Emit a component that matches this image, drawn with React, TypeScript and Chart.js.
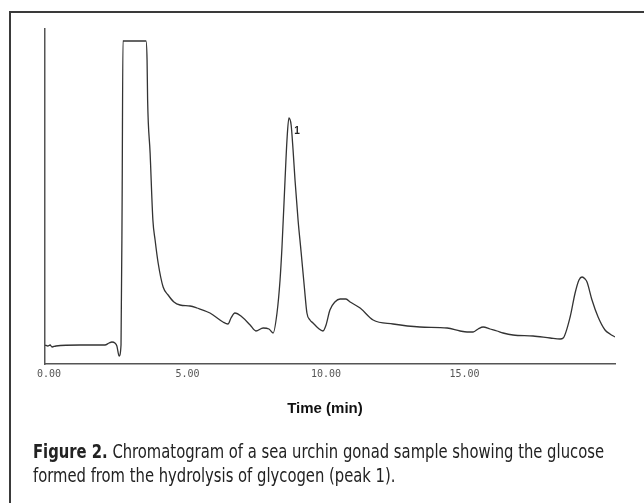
import React, { useEffect, useLayoutEffect, useRef } from "react";
import { Chart, registerables } from "chart.js";

Chart.register(...registerables);

// Retention time (min)
const timeMin = [
  -0.14, -0.04, 0.04, 0.11, 0.25, 1.12, 2.02, 2.17, 2.27, 2.38, 2.45, 2.53, 2.6, 2.64, 2.67,
  3.5, 3.54, 3.56, 3.65, 3.75, 3.83, 3.94, 4.12, 4.3, 4.51, 4.73, 5.09, 5.34, 5.81, 6.28,
  6.46, 6.57, 6.71, 6.97, 7.26, 7.47, 7.73, 7.94, 8.09, 8.23, 8.34, 8.41, 8.52, 8.59, 8.66,
  8.74, 8.81, 8.88, 8.99, 9.1, 9.22, 9.31, 9.42, 9.53, 9.71, 9.89, 10.0, 10.14, 10.32,
  10.51, 10.72, 10.87, 11.23, 11.7, 12.42, 13.39, 14.37, 14.84, 15.09, 15.31, 15.49, 15.67,
  15.92, 16.17, 16.39, 16.75, 17.47, 18.09, 18.45, 18.56, 18.81, 18.99, 19.13, 19.24, 19.35,
  19.42, 19.6, 19.82, 20.07, 20.25, 20.43,
];

// Detector response (arbitrary units)
const response = [
  19, 18, 19, 17, 18, 19, 19, 21, 22, 21, 18, 8, 19, 164, 323,
  323, 304, 264, 211, 144, 124, 101, 77, 69, 62, 59, 58, 56, 51, 42,
  40, 46, 51, 47, 39, 33, 36, 35, 31, 51, 84, 117, 184, 224, 246,
  239, 214, 184, 144, 112, 76, 51, 44, 41, 36, 33, 39, 54, 62,
  65, 65, 62, 56, 44, 40, 37, 36, 33, 32, 32, 35, 37,
  35, 33, 31, 29, 28, 26, 25, 26, 47, 71, 84, 87, 85,
  82, 64, 47, 34, 30, 27,
];

const tickValues = [0, 5, 10, 15];
const tickLabels = ["0.00", "5.00", "10.00", "15.00"];

const peakTimes = [8.66];
const peakValues = [246];
const peakNames = ["1"];

const xTitle = "Time (min)";
const captionBold = "Figure 2.";
const captionLine1 = " Chromatogram of a sea urchin gonad sample showing the glucose";
const captionLine2 = "formed from the hydrolysis of glycogen (peak 1).";

const peakLabelPlugin = {
  id: "peakLabel",
  afterDatasetsDraw(chart: any) {
    const { ctx, scales } = chart;
    const x = scales.x;
    const y = scales.y;
    ctx.save();
    ctx.font = 'bold 10px "Liberation Sans", Arial, sans-serif';
    ctx.fillStyle = "#222";
    ctx.textAlign = "center";
    ctx.textBaseline = "middle";
    peakTimes.forEach((t, i) => {
      const px = x.getPixelForValue(t);
      const py = y.getPixelForValue(peakValues[i]);
      ctx.fillText(peakNames[i], px + 8, py + 13);
    });
    ctx.restore();
  },
};

export default function App() {
  const canvasRef = useRef<HTMLCanvasElement | null>(null);
  const line1Ref = useRef<HTMLDivElement | null>(null);
  const line2Ref = useRef<HTMLDivElement | null>(null);

  useLayoutEffect(() => {
    const l1 = line1Ref.current;
    const l2 = line2Ref.current;
    if (!l1 || !l2) return;
    const w = l1.getBoundingClientRect().width;
    const s = w > 0 ? 571 / w : 1;
    l1.style.transform = `scaleX(${s})`;
    l2.style.transform = `scaleX(${s})`;
  }, []);

  useEffect(() => {
    if (!canvasRef.current) return;
    const data = timeMin.map((t, i) => ({ x: t, y: response[i] }));
    const chart = new Chart(canvasRef.current, {
      type: "line",
      data: {
        datasets: [
          {
            data,
            borderColor: "#333",
            borderWidth: 1.3,
            pointRadius: 0,
            fill: false,
            cubicInterpolationMode: "monotone",
          },
        ],
      },
      options: {
        animation: false,
        responsive: false,
        events: [],
        layout: { padding: { left: 37, right: 21, top: 21, bottom: 44 } },
        plugins: { legend: { display: false }, title: { display: false }, tooltip: { enabled: false } },
        scales: {
          x: {
            type: "linear",
            min: -0.144,
            max: 20.43,
            afterBuildTicks: (scale: any) => {
              scale.ticks = tickValues.map((v) => ({ value: v }));
            },
            afterFit: (scale: any) => {
              scale.height = 20;
            },
            grid: { display: false, drawTicks: false },
            border: { display: true, color: "#555", width: 1.5 },
            ticks: {
              autoSkip: false,
              maxRotation: 0,
              padding: 4,
              color: "#555",
              font: { family: '"DejaVu Sans Mono", monospace', size: 10 },
              callback: (v: any) => {
                const i = tickValues.indexOf(Number(v));
                return i >= 0 ? tickLabels[i] : "";
              },
            },
          },
          y: {
            type: "linear",
            min: 0,
            max: 335,
            afterFit: (scale: any) => {
              scale.width = 0;
            },
            grid: { display: false, drawTicks: false },
            border: { display: true, color: "#555", width: 1.5 },
            ticks: { display: false },
          },
        },
      },
      plugins: [peakLabelPlugin],
    } as any);
    return () => chart.destroy();
  }, []);

  const captionFont = '"Liberation Sans Narrow", "DejaVu Sans Condensed", "Open Sans", sans-serif';

  return (
    <div style={{ position: "relative", width: 628, height: 487, overflow: "hidden", background: "#fff" }}>
      <div
        style={{
          position: "fixed",
          left: 9,
          top: 11,
          width: 700,
          height: 600,
          borderTop: "2px solid #3a3a3a",
          borderLeft: "2px solid #3a3a3a",
          boxSizing: "border-box",
          pointerEvents: "none",
        }}
      />
      <canvas
        ref={canvasRef}
        width={628}
        height={420}
        style={{ position: "absolute", left: 0, top: 0, width: 628, height: 420 }}
      />
      <div
        style={{
          position: "absolute",
          left: 217,
          width: 200,
          top: 391,
          textAlign: "center",
          fontFamily: '"Liberation Sans", Arial, sans-serif',
          fontWeight: "bold",
          fontSize: 15,
          color: "#111",
        }}
      >
        {xTitle}
      </div>
      <div
        ref={line1Ref}
        style={{
          position: "absolute",
          left: 25,
          top: 431,
          whiteSpace: "nowrap",
          fontFamily: captionFont,
          fontSize: 20,
          lineHeight: "24px",
          color: "#222",
          transformOrigin: "left top",
        }}
      >
        <b>{captionBold}</b>
        {captionLine1}
      </div>
      <div
        ref={line2Ref}
        style={{
          position: "absolute",
          left: 25,
          top: 455,
          whiteSpace: "nowrap",
          fontFamily: captionFont,
          fontSize: 20,
          lineHeight: "24px",
          color: "#222",
          transformOrigin: "left top",
        }}
      >
        {captionLine2}
      </div>
    </div>
  );
}
